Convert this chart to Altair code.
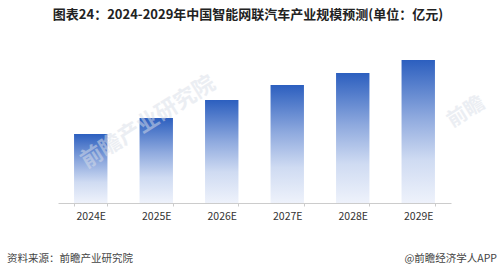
import altair as alt
import pandas as pd

years = ["2024E", "2025E", "2026E", "2027E", "2028E", "2029E"]
values = [6900, 8500, 10300, 11800, 13000, 14300]
title_text = ["图表24：2024-2029年中国智能网联汽车产业规模预测(单位：亿元)"]
source_text = ["资料来源：前瞻产业研究院"]
brand_text = ["@前瞻经济学人APP"]
watermark_text = ["前瞻产业研究院"]
watermark_short = ["前瞻"]

df = pd.DataFrame({"year": years, "value": values})
FONT = "Noto Sans CJK SC"

bars = alt.Chart(df).mark_bar(
    color=alt.Gradient(
        gradient="linear",
        stops=[alt.GradientStop(color="#2c5fbf", offset=0),
               alt.GradientStop(color="#8ea9de", offset=0.4),
               alt.GradientStop(color="#cfdbf2", offset=0.7),
               alt.GradientStop(color="#eef2fb", offset=1)],
        x1=0, x2=0, y1=0, y2=1,
    )
).encode(
    x=alt.X("year:N", sort=years, title=None,
            scale=alt.Scale(paddingInner=0.49, paddingOuter=0.245),
            axis=alt.Axis(labelAngle=0, labelFont=FONT, labelFontSize=10.5,
                          labelColor="#333333", domainColor="#cccccc",
                          tickColor="#cccccc", tickSize=3, tickBand="extent",
                          labelPadding=5, grid=False)),
    y=alt.Y("value:Q", title=None, scale=alt.Scale(domain=[0, 17300]), axis=None),
)

def txt(data, x, y, size, color, weight="normal", align="left", angle=0, opacity=1.0):
    d = pd.DataFrame({"t": data})
    return alt.Chart(d).mark_text(
        font=FONT, fontSize=size, color=color, fontWeight=weight, align=align,
        baseline="middle", angle=angle, opacity=opacity,
    ).encode(x=alt.value(x), y=alt.value(y), text="t:N")

title = txt(title_text, 190, -15, 13, "#222222", weight="bold", align="center")
source = txt(source_text, -51, 229, 10.5, "#444444")
brand = txt(brand_text, 439, 229, 10.5, "#444444", align="right")
wm1 = txt(watermark_text, 90, 92, 22, "#d9dee8", weight="bold", align="center", angle=328, opacity=0.5)
wm2 = txt(watermark_short, 408, 82, 20, "#d9dee8", weight="bold", align="center", angle=328, opacity=0.5)

chart = alt.layer(bars, wm1, wm2, title, source, brand).properties(
    width=393, height=173,
    autosize=alt.AutoSizeParams(type="none"),
    padding={"left": 58, "top": 30, "right": 47, "bottom": 71},
    background="white",
).configure_view(stroke=None)

chart.save("out.html", embed_options={"renderer": "svg", "actions": False})
